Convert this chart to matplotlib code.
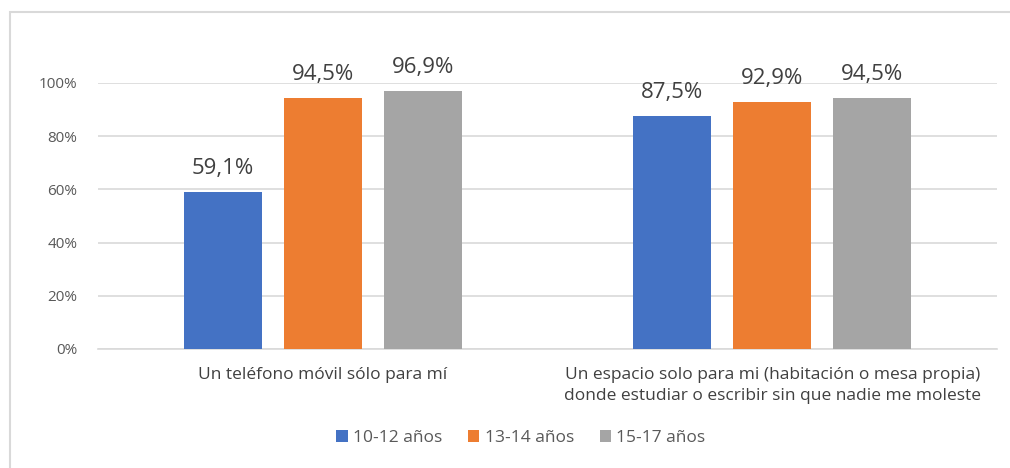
import numpy as np
import matplotlib.pyplot as plt
from matplotlib.patches import Rectangle

# datos
categorias = ['Un teléfono móvil sólo para mí',
              'Un espacio solo para mi (habitación o mesa propia)\ndonde estudiar o escribir sin que nadie me moleste']
series = ['10-12 años', '13-14 años', '15-17 años']
valores_10_12 = [59.1, 87.5]
valores_13_14 = [94.5, 92.9]
valores_15_17 = [96.9, 94.5]
colores = ['#4472C4', '#ED7D31', '#A5A5A5']

plt.rcParams['font.family'] = ['Open Sans', 'DejaVu Sans']

fig = plt.figure(figsize=(10.10, 4.68), dpi=100)
W, H = 1010, 468
ax = fig.add_axes([98 / W, 1 - 349 / H, (997 - 98) / W, (349 - 83) / H])

# borde del gráfico
fig.patches.append(Rectangle((10 / W, -0.01), 1.2, 1 - 12 / H + 0.01, transform=fig.transFigure,
                             fill=False, edgecolor='#D9D9D9', linewidth=1.5))

x = np.arange(len(categorias))
ancho = 0.174
paso = 0.2225
for i, (serie, vals) in enumerate(zip(series, [valores_10_12, valores_13_14, valores_15_17])):
    pos = x + (i - 1) * paso
    barras = ax.bar(pos, vals, ancho, color=colores[i], label=serie, zorder=3)
    for b, v in zip(barras, vals):
        ax.text(b.get_x() + b.get_width() / 2, v + 6.8, f'{v:.1f}%'.replace('.', ','),
                ha='center', va='baseline', fontsize=16, color='#404040')

ax.set_xlim(-0.5, 1.5)
ax.set_ylim(0, 100)
ax.set_yticks(np.arange(0, 101, 20))
ax.set_yticklabels([f'{t}%' for t in range(0, 101, 20)])
ax.set_xticks(x)
ax.set_xticklabels(categorias, fontsize=12.5, color='#404040', linespacing=1.45)
ax.tick_params(axis='y', length=0, labelsize=11, labelcolor='#595959', pad=15)
ax.tick_params(axis='x', length=0, pad=13)
ax.grid(axis='y', color='#D9D9D9', linewidth=1.2, zorder=0)
for s in ['top', 'right', 'left']:
    ax.spines[s].set_visible(False)
ax.spines['bottom'].set_color('#D9D9D9')
ax.spines['bottom'].set_linewidth(1.2)

fig.legend(loc='center', bbox_to_anchor=(521 / W, 1 - 438 / H), ncol=3, frameon=False,
           fontsize=12.5, handlelength=0.65, handleheight=0.65, handletextpad=0.3,
           columnspacing=1.5, labelcolor='#595959')

fig.savefig('out.png', dpi=100)
